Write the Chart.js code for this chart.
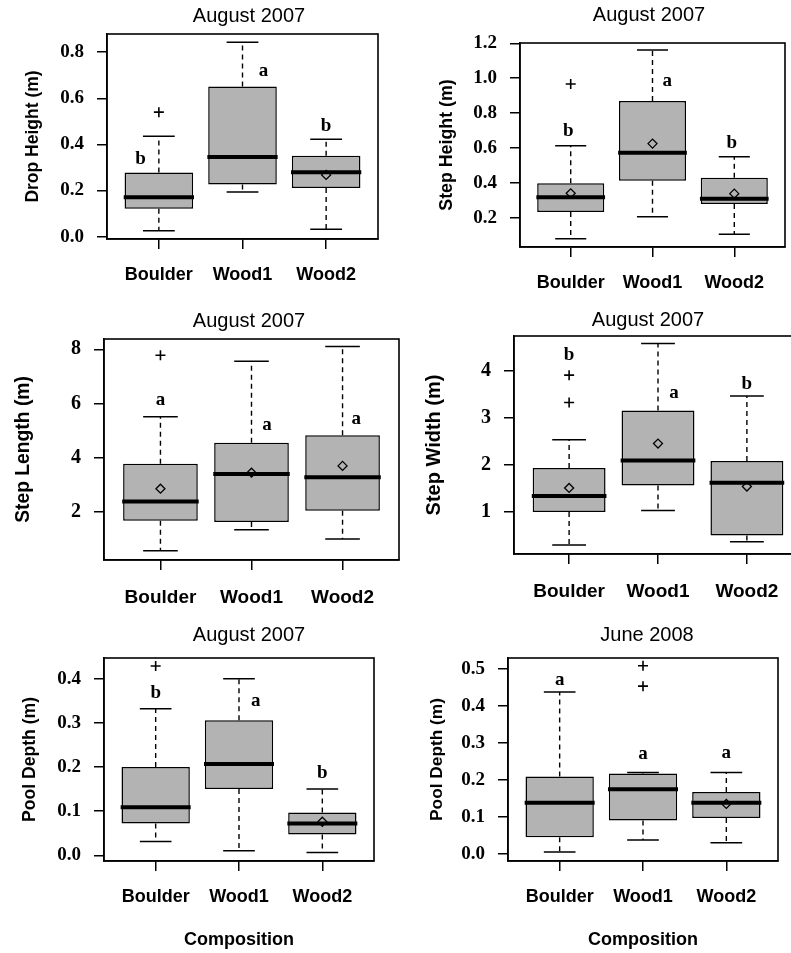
<!DOCTYPE html>
<html>
<head>
<meta charset="utf-8">
<script src="https://cdn.jsdelivr.net/npm/chart.js@4.4.1/dist/chart.umd.min.js"></script>
<style>
  html, body { margin: 0; padding: 0; background: #fff; }
  #page { position: relative; width: 791px; height: 953px; overflow: hidden; background: #fff; }
  #page canvas { position: absolute; }
</style>
</head>
<body>
<div id="page"></div>
<script>
const groups = ['Boulder', 'Wood1', 'Wood2'];

// per group: [low whisker, Q1, median, Q3, high whisker]
const dropBox = [[0.026, 0.121, 0.171, 0.278, 0.436], [0.194, 0.226, 0.346, 0.651, 0.843], [0.032, 0.211, 0.279, 0.351, 0.423]];
const dropMean = [null, null, 0.268];
const dropOut = [[0.54], [], []];
const dropLetters = ['b', 'a', 'b'];
const dropTicks = ['0.0', '0.2', '0.4', '0.6', '0.8'];

const stepHBox = [[0.080, 0.233, 0.317, 0.397, 0.613], [0.206, 0.412, 0.573, 0.870, 1.162], [0.105, 0.279, 0.309, 0.429, 0.550]];
const stepHMean = [0.340, 0.625, 0.338];
const stepHOut = [[0.967], [], []];
const stepHLetters = ['b', 'a', 'b'];
const stepHTicks = ['0.2', '0.4', '0.6', '0.8', '1.0', '1.2'];

const stepLBox = [[0.57, 1.68, 2.39, 3.78, 5.51], [1.35, 1.63, 3.40, 4.55, 7.56], [1.00, 2.05, 3.28, 4.83, 8.10]];
const stepLMean = [2.86, 3.45, 3.70];
const stepLOut = [[7.78], [], []];
const stepLLetters = ['a', 'a', 'a'];
const stepLTicks = ['2', '4', '6', '8'];

const stepWBox = [[0.30, 1.00, 1.34, 1.93, 2.53], [1.03, 1.56, 2.09, 3.15, 4.57], [0.37, 0.50, 1.62, 2.08, 3.46]];
const stepWMean = [1.51, 2.45, 1.54];
const stepWOut = [[3.32, 3.90], [], []];
const stepWLetters = ['b', 'a', 'b'];
const stepWTicks = ['1', '2', '3', '4'];

const pool07Box = [[0.031, 0.072, 0.109, 0.200, 0.332], [0.010, 0.150, 0.207, 0.306, 0.400], [0.006, 0.047, 0.072, 0.097, 0.150]];
const pool07Mean = [null, null, 0.076];
const pool07Out = [[0.429], [], []];
const pool07Letters = ['b', 'a', 'b'];
const pool07Ticks = ['0.0', '0.1', '0.2', '0.3', '0.4'];

const pool08Box = [[0.005, 0.045, 0.138, 0.209, 0.437], [0.038, 0.090, 0.175, 0.217, 0.220], [0.030, 0.097, 0.138, 0.167, 0.220]];
const pool08Mean = [null, null, 0.135];
const pool08Out = [[], [0.453, 0.508], []];
const pool08Letters = ['a', 'a', 'a'];
const pool08Ticks = ['0.0', '0.1', '0.2', '0.3', '0.4', '0.5'];

const SANS = '"Liberation Sans", Arial, sans-serif';
const SERIF = '"Liberation Serif", "Times New Roman", serif';

// page layout: plot frame [left, top, right, bottom] and where the texts sit
const panels = [
  { title: 'August 2007', yTitle: 'Drop Height (m)', box: dropBox, mean: dropMean, out: dropOut, letters: dropLetters, ticks: dropTicks,
    yMin: -0.010, yMax: 0.879, frame: [107, 34, 378, 239], titleX: 249, titleY: 16, yTitleX: 33, yTitleSize: 17.5,
    tickSize: 19, labelSize: 18, labelY: 275, letterAt: [[0.78, 0.337], [2.25, 0.716], [3.0, 0.48]] },
  { title: 'August 2007', yTitle: 'Step Height (m)', box: stepHBox, mean: stepHMean, out: stepHOut, letters: stepHLetters, ticks: stepHTicks,
    yMin: 0.032, yMax: 1.202, frame: [520, 43, 785, 247], titleX: 649, titleY: 15, yTitleX: 447.5, yTitleSize: 17.8,
    tickSize: 19, labelSize: 18, labelY: 283, letterAt: [[0.97, 0.697], [2.18, 0.986], [2.97, 0.63]] },
  { title: 'August 2007', yTitle: 'Step Length (m)', box: stepLBox, mean: stepLMean, out: stepLOut, letters: stepLLetters, ticks: stepLTicks,
    yMin: 0.23, yMax: 8.38, frame: [104, 339, 399, 560], titleX: 249, titleY: 321, yTitleX: 23.3, yTitleSize: 19.3,
    tickSize: 20, labelSize: 19, labelY: 598, letterAt: [[1.0, 6.13], [2.17, 5.21], [3.15, 5.43]] },
  { title: 'August 2007', yTitle: 'Step Width (m)', box: stepWBox, mean: stepWMean, out: stepWOut, letters: stepWLetters, ticks: stepWTicks,
    yMin: 0.11, yMax: 4.73, frame: [514, 336, 802, 554], titleX: 648, titleY: 320, yTitleX: 434, yTitleSize: 20,
    tickSize: 20, labelSize: 19, labelY: 592, letterAt: [[1.0, 4.32], [2.18, 3.51], [3.0, 3.72]] },
  { title: 'August 2007', yTitle: 'Pool Depth (m)', box: pool07Box, mean: pool07Mean, out: pool07Out, letters: pool07Letters, ticks: pool07Ticks,
    yMin: -0.013, yMax: 0.447, frame: [104, 658, 374, 861], titleX: 249, titleY: 635, yTitleX: 30.5, yTitleSize: 17.6,
    tickSize: 19, labelSize: 18, labelY: 897, xTitleY: 940.5, letterAt: [[1.0, 0.367], [2.2, 0.349], [3.0, 0.187]] },
  { title: 'June 2008', yTitle: 'Pool Depth (m)', box: pool08Box, mean: pool08Mean, out: pool08Out, letters: pool08Letters, ticks: pool08Ticks,
    yMin: -0.019, yMax: 0.529, frame: [508, 658, 778, 861], titleX: 647, titleY: 635, yTitleX: 437.5, yTitleSize: 17.3,
    tickSize: 19, labelSize: 18, labelY: 897.5, xTitleY: 940.5, letterAt: [[1.0, 0.469], [2.0, 0.269], [3.0, 0.272]] }
];

Chart.defaults.color = '#000';
Chart.defaults.font.family = SANS;

// frame round the plot area + the significance letters
const lettersPlugin = {
  id: 'letters',
  afterDatasetsDraw(chart, args, opts) {
    const { ctx, chartArea: a, scales: { x, y } } = chart;
    ctx.save();
    ctx.strokeStyle = '#000';
    ctx.lineWidth = 1.6;
    ctx.strokeRect(a.left, a.top, a.right - a.left, a.bottom - a.top);
    ctx.font = 'bold 19px ' + SERIF;
    ctx.fillStyle = '#000';
    ctx.textAlign = 'center';
    ctx.textBaseline = 'middle';
    opts.letters.forEach((t, i) => {
      ctx.fillText(t, x.getPixelForValue(opts.at[i][0]), y.getPixelForValue(opts.at[i][1]));
    });
    ctx.restore();
  }
};

function gapLine(segs) {
  // list of [x0, y0, x1, y1] -> points with null breaks
  let pts = [];
  segs.forEach(s => {
    pts.push({ x: s[0], y: s[1] }, { x: s[2], y: s[3] }, { x: s[2], y: null });
  });
  return pts;
}

function buildDatasets(p) {
  const whiskers = [], caps = [], medians = [], outliers = [], means = [];
  p.box.forEach((b, i) => {
    const c = i + 1;
    whiskers.push([c, b[3], c, b[4]], [c, b[1], c, b[0]]);
    caps.push([c - 0.19, b[4], c + 0.19, b[4]], [c - 0.19, b[0], c + 0.19, b[0]]);
    medians.push([c - 0.42, b[2], c + 0.42, b[2]]);
    p.out[i].forEach(v => outliers.push({ x: c, y: v }));
    if (p.mean[i] != null) means.push({ x: c, y: p.mean[i] });
  });
  const line = { type: 'line', borderColor: '#000', pointRadius: 0, fill: false, spanGaps: false, tension: 0 };
  return [
    { ...line, data: gapLine(medians), borderWidth: 4, order: 0 },
    { type: 'scatter', data: means, pointStyle: 'rectRot', pointRadius: 4.5, pointBackgroundColor: 'rgba(0,0,0,0)',
      pointBorderColor: '#000', pointBorderWidth: 1.3, order: 1 },
    { type: 'scatter', data: outliers, pointStyle: 'cross', pointRadius: 5, pointBorderColor: '#000',
      pointBorderWidth: 1.6, order: 2 },
    { type: 'bar', data: p.box.map((b, i) => ({ x: i + 1, y: [b[1], b[3]] })), backgroundColor: '#b3b3b3',
      borderColor: '#000', borderWidth: 1.5, borderSkipped: false, barPercentage: 0.82, categoryPercentage: 1, order: 3 },
    { ...line, data: gapLine(caps), borderWidth: 1.5, order: 4 },
    { ...line, data: gapLine(whiskers), borderWidth: 1.4, borderDash: [5, 4], order: 5 }
  ];
}

function makeChart(p) {
  const YW = 100;
  const [fl, ft, fr, fb] = p.frame;
  const xh = p.xTitleY ? 95 : 60;
  const left = fl - YW;
  const top = p.titleY - 14;
  const w2 = 2 * p.titleX - left - fr;   // empty box on the right so the title centres where wanted
  const width = fr + w2 - left;
  const height = fb + xh - top;
  const titleBottom = ft - top - 26;
  const yLh = p.yTitleSize * 1.2;
  const labLh = p.labelSize * 1.2;

  const cvs = document.createElement('canvas');
  cvs.width = width;
  cvs.height = height;
  cvs.style.left = left + 'px';
  cvs.style.top = top + 'px';
  document.getElementById('page').appendChild(cvs);

  const grid = { offset: false, drawOnChartArea: false, drawTicks: true, tickLength: 10, lineWidth: 1.5, color: '#000' };
  const border = { display: true, color: '#000', width: 1.5 };

  return new Chart(cvs.getContext('2d'), {
    type: 'bar',
    data: { datasets: buildDatasets(p) },
    plugins: [lettersPlugin],
    options: {
      responsive: false,
      animation: false,
      devicePixelRatio: 1,
      layout: { padding: 0 },
      plugins: {
        legend: { display: false },
        tooltip: { enabled: false },
        title: { display: true, text: p.title, color: '#000', font: { family: SANS, size: 20, weight: 'normal' },
          padding: { top: 2, bottom: titleBottom } },
        letters: { letters: p.letters, at: p.letterAt }
      },
      scales: {
        x: {
          type: 'linear', min: 0.38, max: 3.62, offset: false,
          afterBuildTicks: s => { s.ticks = groups.map((g, i) => ({ value: i + 1 })); },
          afterFit: s => { s.height = xh; },
          ticks: { callback: v => groups[v - 1], autoSkip: false, maxRotation: 0, color: '#000',
            font: { family: SANS, size: p.labelSize, weight: 'bold' }, padding: p.labelY - fb - 10 - labLh / 2 },
          grid: grid,
          border: border,
          title: { display: !!p.xTitleY, text: 'Composition', color: '#000', font: { family: SANS, size: 18, weight: 'bold' },
            padding: { top: 0, bottom: p.xTitleY ? fb + xh - p.xTitleY - 10.8 : 0 } }
        },
        y: {
          type: 'linear', min: p.yMin, max: p.yMax,
          afterBuildTicks: s => { s.ticks = p.ticks.map(t => ({ value: parseFloat(t) })); },
          afterFit: s => { s.width = YW; },
          ticks: { callback: (v, i) => p.ticks[i], autoSkip: false, color: '#000', padding: 13,
            font: { family: SERIF, size: p.tickSize, weight: 'bold' } },
          grid: grid,
          border: border,
          title: { display: true, text: p.yTitle, color: '#000', font: { family: SANS, size: p.yTitleSize, weight: 'bold' },
            padding: { top: p.yTitleX - left - yLh / 2, bottom: 0 } }
        },
        y2: {
          type: 'linear', position: 'right', display: true,
          afterFit: s => { s.width = w2; },
          ticks: { display: false },
          grid: { display: false },
          border: { display: false }
        }
      }
    }
  });
}

panels.forEach(makeChart);
</script>
</body>
</html>
